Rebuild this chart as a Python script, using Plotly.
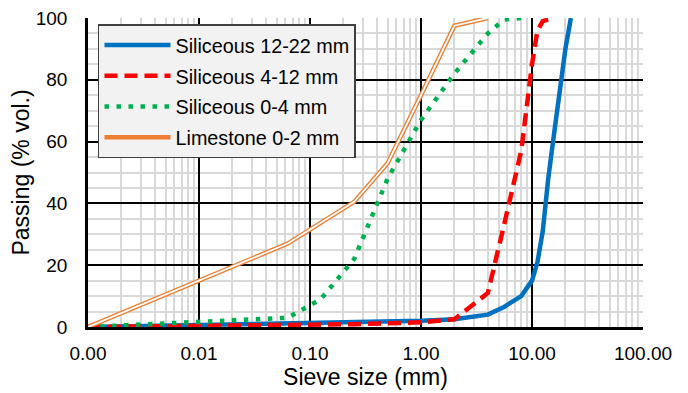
import plotly.graph_objects as go

# Sieve sizes (mm) and passing (% vol.)
blue_x = [0.001, 0.063, 0.125, 0.25, 0.5, 1, 2, 4, 5.6, 8, 10, 11.2, 12.5, 14, 16, 18, 20, 22.4]
blue_y = [0, 1.0, 1.2, 1.5, 1.8, 2.0, 2.5, 4.0, 6.5, 10, 15, 21, 31, 48, 64, 79, 90, 100]

red_x = [0.001, 0.063, 0.125, 0.25, 0.5, 1, 2, 4, 5.6, 8, 10, 11.2, 12.5, 16]
red_y = [0, 0.5, 0.7, 0.9, 1.2, 1.5, 2.5, 11, 33, 57, 85, 96, 99, 100]

green_x = [0.001, 0.063, 0.125, 0.25, 0.5, 1, 2, 4, 5.6, 8]
green_y = [0, 3, 9, 22, 48, 67, 82, 95, 99.5, 100]

orange_x = [0.001, 0.063, 0.25, 0.5, 1, 2, 4]
orange_y = [0, 27, 40.5, 53, 75, 97.5, 100]

x_tickvals = [0.001, 0.01, 0.1, 1, 10, 100]
x_ticktext = ["0.00", "0.01", "0.10", "1.00", "10.00", "100.00"]

names = ["Siliceous 12-22 mm", "Siliceous 4-12 mm", "Siliceous 0-4 mm", "Limestone 0-2 mm"]

FONT = "Liberation Sans, Arial, sans-serif"

fig = go.Figure()
fig.add_trace(go.Scatter(x=blue_x, y=blue_y, mode="lines", name=names[0], legendgroup="a",
                         line=dict(color="#0070C0", width=4.5)))
fig.add_trace(go.Scatter(x=red_x, y=red_y, mode="lines", name=names[1], legendgroup="b",
                         line=dict(color="#FF0000", width=4.5, dash="13px,7px")))
fig.add_trace(go.Scatter(x=green_x, y=green_y, mode="lines", name=names[2], legendgroup="c",
                         line=dict(color="#00B050", width=4.5, dash="4.5px,7.5px")))
fig.add_trace(go.Scatter(x=orange_x, y=orange_y, mode="lines", name=names[3], legendgroup="d",
                         line=dict(color="#ED7D31", width=4.5)))
fig.add_trace(go.Scatter(x=orange_x, y=orange_y, mode="lines", showlegend=False, legendgroup="d",
                         hoverinfo="skip", line=dict(color="white", width=1.8)))

fig.update_layout(
    width=680, height=385,
    margin=dict(l=80, r=45, t=10, b=66),
    paper_bgcolor="white", plot_bgcolor="white",
    font=dict(family=FONT, size=19, color="#000000"),
    legend=dict(x=0.018, y=0.98, xanchor="left", yanchor="top",
                bgcolor="#F2F2F2", bordercolor="#404040", borderwidth=1.5,
                font=dict(size=19.8), itemwidth=66, tracegroupgap=2),
    xaxis=dict(type="log", range=[-3, 2], tickvals=x_tickvals, ticktext=x_ticktext,
               showgrid=True, gridcolor="#000000", gridwidth=1.5,
               minor=dict(showgrid=True, gridcolor="#D9D9D9", gridwidth=1.5, dtick="D1"),
               showline=True, linecolor="#000000", linewidth=2.5,
               ticks="", zeroline=False, automargin=False, ticklabelstandoff=7,
               ticklabeloverflow="allow",
               title=dict(text="Sieve size (mm)", standoff=4),
               tickfont=dict(size=19)),
    yaxis=dict(range=[0, 100], dtick=20,
               showgrid=True, gridcolor="#000000", gridwidth=1.5,
               minor=dict(showgrid=True, gridcolor="#D9D9D9", gridwidth=1.5, dtick=5),
               showline=True, linecolor="#000000", linewidth=2.5,
               ticks="", zeroline=False, automargin=False, ticklabelstandoff=14,
               ticklabeloverflow="allow",
               title=dict(text="Passing (% vol.)", standoff=0),
               tickfont=dict(size=19)),
)

fig.write_html("out.html")
